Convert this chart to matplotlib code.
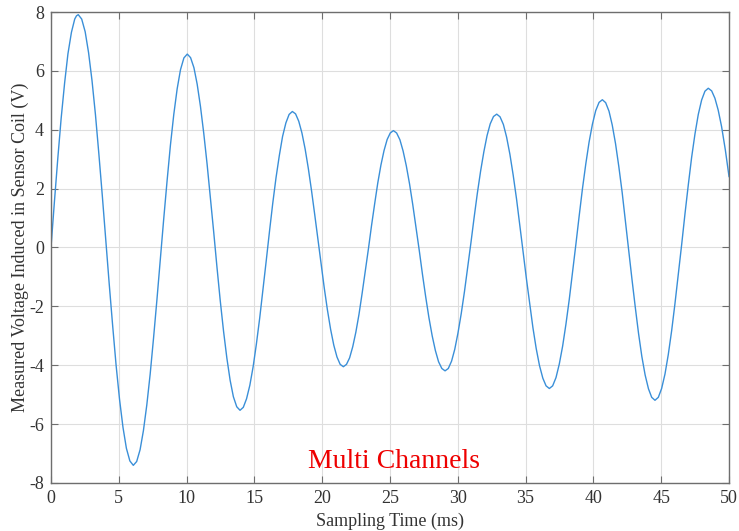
import matplotlib
matplotlib.use("Agg")
import matplotlib.pyplot as plt

time_ms = [0, 0.25, 0.5025, 0.75, 1.005, 1.25, 1.5075, 1.75, 1.88, 2.01,
           2.264, 2.52, 2.771, 3.025, 3.279, 3.53, 3.786, 4.04, 4.294, 4.55, 4.801, 5.055, 5.309, 5.56, 5.816, 6.07,
           6.319, 6.57, 6.816, 7.065, 7.314, 7.56, 7.811, 8.06, 8.309, 8.56, 8.806, 9.055, 9.304, 9.55, 9.801, 10.05,
           10.293, 10.54, 10.779, 11.02, 11.265, 11.51, 11.752, 12.00, 12.238, 12.48, 12.724, 12.97, 13.21, 13.45, 13.697, 13.94,
           14.181, 14.42, 14.664, 14.91, 15.146, 15.39, 15.629, 15.87, 16.111, 16.35, 16.594, 16.84, 17.076, 17.32, 17.559, 17.80,
           18.035, 18.27, 18.505, 18.74, 18.975, 19.21, 19.445, 19.68, 19.915, 20.15, 20.385, 20.62, 20.855, 21.09, 21.325, 21.56,
           21.791, 22.02, 22.252, 22.48, 22.713, 22.94, 23.174, 23.41, 23.636, 23.87, 24.097, 24.33, 24.558, 24.79, 25.019, 25.25,
           25.488, 25.73, 25.964, 26.20, 26.441, 26.68, 26.917, 27.16, 27.393, 27.63, 27.869, 28.11, 28.346, 28.58, 28.822, 29.06,
           29.298, 29.54, 29.774, 30.01, 30.251, 30.49, 30.727, 30.97, 31.203, 31.44, 31.679, 31.92, 32.156, 32.39, 32.632, 32.87,
           33.113, 33.36, 33.598, 33.84, 34.083, 34.33, 34.568, 34.81, 35.053, 35.30, 35.538, 35.78, 36.023, 36.27, 36.508, 36.75,
           36.994, 37.24, 37.483, 37.73, 37.972, 38.22, 38.461, 38.71, 38.949, 39.19, 39.438, 39.68, 39.927, 40.17, 40.416, 40.66,
           40.903, 41.15, 41.388, 41.63, 41.873, 42.12, 42.358, 42.60, 42.843, 43.09, 43.328, 43.57, 43.813, 44.06, 44.298, 44.54,
           44.786, 45.03, 45.277, 45.52, 45.768, 46.01, 46.259, 46.51, 46.751, 47.00, 47.242, 47.49, 47.733, 47.98, 48.224, 48.47,
           48.72, 48.96, 49.2, 49.45, 49.73, 50.0]
voltage = [0, 1.54, 3.03, 4.39, 5.59, 6.58, 7.31, 7.76, 7.87, 7.91,
           7.76, 7.33, 6.62, 5.67, 4.51, 3.18, 1.75, 0.26, -1.24, -2.67, -4.00, -5.16, -6.11, -6.82, -7.25, -7.40,
           -7.27, -6.87, -6.22, -5.35, -4.30, -3.09, -1.78, -0.42, 0.95, 2.26, 3.47, 4.52, 5.39, 6.04, 6.44, 6.57,
           6.45, 6.11, 5.55, 4.80, 3.88, 2.84, 1.70, 0.52, -0.66, -1.80, -2.84, -3.76, -4.51, -5.07, -5.41, -5.53,
           -5.43, -5.14, -4.68, -4.04, -3.28, -2.40, -1.45, -0.46, 0.54, 1.49, 2.37, 3.13, 3.77, 4.23, 4.52, 4.62,
           4.54, 4.29, 3.89, 3.35, 2.69, 1.94, 1.13, 0.29, -0.56, -1.37, -2.12, -2.78, -3.32, -3.72, -3.97, -4.05,
           -3.97, -3.75, -3.37, -2.88, -2.27, -1.57, -0.82, -0.04, 0.74, 1.49, 2.19, 2.80, 3.29, 3.67, 3.89, 3.97,
           3.89, 3.66, 3.28, 2.78, 2.16, 1.45, 0.69, -0.11, -0.91, -1.67, -2.38, -3.00, -3.50, -3.88, -4.11, -4.19,
           -4.11, -3.86, -3.46, -2.91, -2.25, -1.50, -0.68, 0.17, 1.02, 1.84, 2.59, 3.25, 3.80, 4.20, 4.45, 4.53,
           4.44, 4.18, 3.75, 3.17, 2.46, 1.65, 0.78, -0.13, -1.04, -1.91, -2.72, -3.43, -4.01, -4.44, -4.70, -4.79,
           -4.70, -4.42, -3.96, -3.35, -2.61, -1.76, -0.84, 0.12, 1.07, 1.99, 2.84, 3.58, 4.19, 4.65, 4.93, 5.02,
           4.92, 4.63, 4.16, 3.53, 2.75, 1.87, 0.91, -0.09, -1.08, -2.04, -2.92, -3.70, -4.33, -4.80, -5.09, -5.19,
           -5.09, -4.79, -4.30, -3.64, -2.83, -1.92, -0.92, 0.11, 1.14, 2.14, 3.06, 3.86, 4.52, 5.01, 5.31, 5.41,
           5.32, 5.07, 4.67, 4.11, 3.31, 2.41]

x_ticks = [0, 5, 10, 15, 20, 25, 30, 35, 40, 45, 50]
y_ticks = [-8, -6, -4, -2, 0, 2, 4, 6, 8]

plt.rcParams['font.family'] = ['Liberation Serif', 'DejaVu Serif']
plt.rcParams['axes.unicode_minus'] = False

fig = plt.figure(figsize=(7.39, 5.31), dpi=100)
ax = fig.add_axes([0.069, 0.0904, 0.9175, 0.887])

ax.plot(time_ms, voltage, color='#3a8fd8', linewidth=1.0)

ax.set_xlim(0, 50)
ax.set_ylim(-8, 8)
ax.set_xticks(x_ticks)
ax.set_yticks(y_ticks)
ax.grid(True, color='#dedede', linewidth=0.8)
ax.set_axisbelow(True)

for s in ax.spines.values():
    s.set_color('#6e6e6e')
    s.set_linewidth(1.0)
ax.tick_params(direction='in', top=True, right=True, length=5,
               color='#6e6e6e', labelsize=13, labelcolor='#333333', pad=5)

ax.set_xlabel("Sampling Time (ms)", fontsize=13, color='#333333', labelpad=4)
ax.set_ylabel("Measured Voltage Induced in Sensor Coil (V)", fontsize=13,
              color='#333333', labelpad=0)

ax.text(18.95, -7.5, "Multi Channels", color='#ee0000', fontsize=20,
        ha='left', va='baseline')

fig.savefig("out.png", dpi=100)
